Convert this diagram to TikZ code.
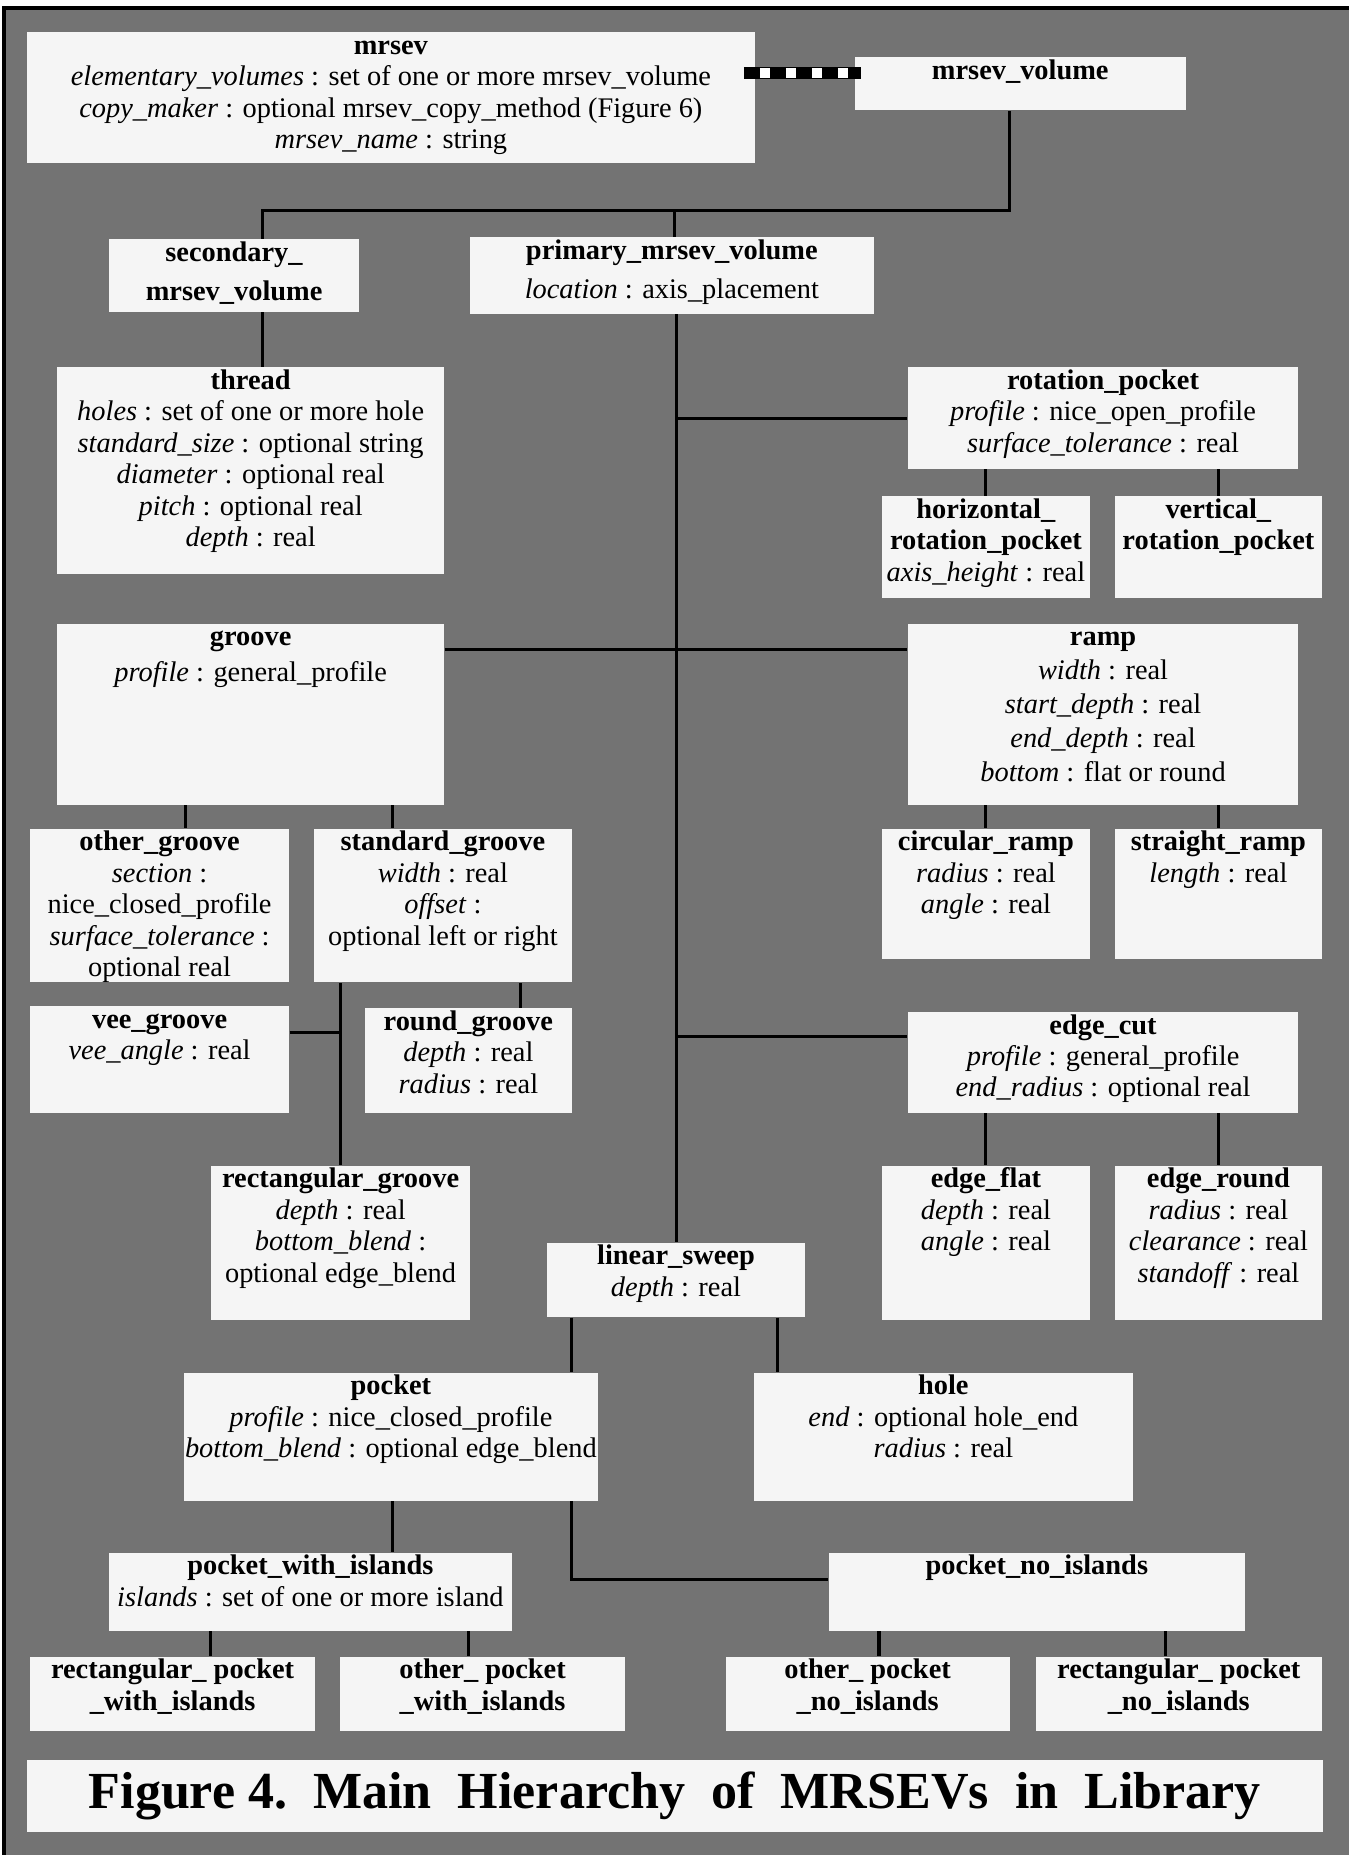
\documentclass[tikz,border=0pt]{standalone}
\usepackage{xcolor}
\usepackage{fontspec}
\setmainfont{Liberation Serif}
\usepackage{tikz}
\definecolor{screen}{gray}{0.45}
\definecolor{card}{gray}{0.96}
\newlength\unitpx
\setlength\unitpx{0.5pt}
\newcommand{\classbox}[3]{\parbox[c][#2\unitpx][t]{#1\unitpx}{\centering\strut#3}}
\newcommand{\attr}[2]{\textit{#1} : #2}
\tikzstyle{cls}=[anchor=north west,inner sep=0pt,fill=card,font=\fontsize{12}{13.3}\selectfont]
\tikzstyle{link}=[line width=1.3pt]
\tikzstyle{aggbar}=[line width=5pt]
\tikzstyle{aggdots}=[white,line width=4.2pt,dash pattern=on 4.25pt off 6.75pt,dash phase=4.25pt]

\begin{document}
\begin{tikzpicture}[x=0.5pt,y=-0.5pt]
        \useasboundingbox (0,0) rectangle (1140,1568);
        \fill[white] (0,0) rectangle (1140,1568);
        \filldraw[fill=screen,draw=black,line width=1.7pt] (3,7) rectangle (1170,1600);

        % top of the hierarchy
        \node[cls] (mrsev) at (22,27) {\classbox{616}{110}{\textbf{mrsev}\\
              \attr{elementary\_volumes}{set of one or more mrsev\_volume}\\
              \attr{copy\_maker}{optional mrsev\_copy\_method (Figure 6)}\\
              \attr{mrsev\_name}{string}}};
        \node[cls] (mrsevvol) at (722,48) {\classbox{280}{45}{\textbf{mrsev\_volume}}};
        \node[cls] (secondary) at (92,202) {\classbox{211}{61}{\textbf{secondary\_}\\[3.4pt]\textbf{mrsev\_volume}}};
        \node[cls] (primary) at (397,200) {\classbox{341}{65}{\textbf{primary\_mrsev\_volume}\\[3.4pt]\attr{location}{axis\_placement}}};

        % left column
        \node[cls] (thread) at (48,310) {\classbox{327}{175}{\textbf{thread}\\
              \attr{holes}{set of one or more hole}\\
              \attr{standard\_size}{optional string}\\
              \attr{diameter}{optional real}\\
              \attr{pitch}{optional real}\\
              \attr{depth}{real}}};
        \node[cls] (groove) at (48,527) {\classbox{327}{153}{\textbf{groove}\\[1.7pt]\attr{profile}{general\_profile}}};
        \node[cls] (othergroove) at (25,700) {\classbox{219}{130}{\textbf{other\_groove}\\
              \textit{section} :\\ nice\_closed\_profile\\ \textit{surface\_tolerance} :\\ optional real}};
        \node[cls] (stdgroove) at (265,700) {\classbox{218}{130}{\textbf{standard\_groove}\\
              \attr{width}{real}\\ \textit{offset} :\\ optional left or right}};
        \node[cls] (veegroove) at (25,850) {\classbox{219}{90}{\textbf{vee\_groove}\\ \attr{vee\_angle}{real}}};
        \node[cls] (roundgroove) at (308,852) {\classbox{175}{88}{\textbf{round\_groove}\\
              \attr{depth}{real}\\ \attr{radius}{real}}};
        \node[cls] (rectgroove) at (178,985) {\classbox{219}{130}{\textbf{rectangular\_groove}\\
              \attr{depth}{real}\\ \textit{bottom\_blend} :\\ optional edge\_blend}};

        % right column
        \node[cls] (rotpocket) at (767,310) {\classbox{330}{86}{\textbf{rotation\_pocket}\\
              \attr{profile}{nice\_open\_profile}\\ \attr{surface\_tolerance}{real}}};
        \node[cls] (hrot) at (745,419) {\classbox{176}{86}{\textbf{horizontal\_}\\ \textbf{rotation\_pocket}\\ \attr{axis\_height}{real}}};
        \node[cls] (vrot) at (942,419) {\classbox{175}{86}{\textbf{vertical\_}\\ \textbf{rotation\_pocket}}};
        \node[cls] (ramp) at (767,527) {\classbox{330}{153}{\textbf{ramp}\\[1pt]
              \attr{width}{real}\\[1pt] \attr{start\_depth}{real}\\[1pt]
              \attr{end\_depth}{real}\\[1pt] \attr{bottom}{flat or round}}};
        \node[cls] (circramp) at (745,700) {\classbox{176}{110}{\textbf{circular\_ramp}\\
              \attr{radius}{real}\\ \attr{angle}{real}}};
        \node[cls] (straightramp) at (942,700) {\classbox{175}{110}{\textbf{straight\_ramp}\\ \attr{length}{real}}};
        \node[cls] (edgecut) at (767,855) {\classbox{330}{85}{\textbf{edge\_cut}\\
              \attr{profile}{general\_profile}\\ \attr{end\_radius}{optional real}}};
        \node[cls] (edgeflat) at (745,985) {\classbox{176}{130}{\textbf{edge\_flat}\\
              \attr{depth}{real}\\ \attr{angle}{real}}};
        \node[cls] (edgeround) at (942,985) {\classbox{175}{130}{\textbf{edge\_round}\\
              \attr{radius}{real}\\ \attr{clearance}{real}\\ \attr{standoff}{real}}};

        % sweeps
        \node[cls] (lsweep) at (462,1050) {\classbox{218}{63}{\textbf{linear\_sweep}\\ \attr{depth}{real}}};
        \node[cls] (pocket) at (155,1160) {\classbox{350}{108}{\textbf{pocket}\\
              \attr{profile}{nice\_closed\_profile}\\ \attr{bottom\_blend}{optional edge\_blend}}};
        \node[cls] (hole) at (637,1160) {\classbox{320}{108}{\textbf{hole}\\
              \attr{end}{optional hole\_end}\\ \attr{radius}{real}}};
        \node[cls] (pwi) at (92,1312) {\classbox{340}{66}{\textbf{pocket\_with\_islands}\\
              \attr{islands}{set of one or more island}}};
        \node[cls] (pni) at (700,1312) {\classbox{352}{66}{\textbf{pocket\_no\_islands}}};
        \node[cls] (rpwi) at (25,1400) {\classbox{241}{63}{\textbf{rectangular\_ pocket}\\ \textbf{\_with\_islands}}};
        \node[cls] (opwi) at (287,1400) {\classbox{241}{63}{\textbf{other\_ pocket}\\ \textbf{\_with\_islands}}};
        \node[cls] (opni) at (613,1400) {\classbox{240}{63}{\textbf{other\_ pocket}\\ \textbf{\_no\_islands}}};
        \node[cls] (rpni) at (875,1400) {\classbox{242}{63}{\textbf{rectangular\_ pocket}\\ \textbf{\_no\_islands}}};

        \node[anchor=north west,inner sep=0pt,fill=card,minimum width=548pt,minimum height=30.5pt,
              font=\bfseries\fontsize{22}{25}\selectfont] (caption) at (22,1487)
              {Figure 4.\ \ Main\ \ Hierarchy\ \ of\ \ MRSEVs\ \ in\ \ Library};

        % where the lines run
        \foreach \n/\v in {sec/222,pri/570,trunk/572,og/157,sg/332,rg/440,pk/483,ho/657,
                           pwi/332,rpwi/178,opwi/396,opni/743,rpni/985}
          \coordinate (x\n) at (\v,0);
        \foreach \n/\v in {agg/62,bus/178,gr/549,ec/876,vee/873,pni/1335}
          \coordinate (y\n) at (0,\v);
        \coordinate (bus) at (853,178);

        \draw[aggbar,shorten <=-5pt,shorten >=-3pt] (mrsev.east |- yagg) -- (mrsevvol.west |- yagg);
        \draw[aggdots] ([xshift=-5pt]mrsev.east |- yagg) -- ([xshift=3pt]mrsevvol.west |- yagg);

        \draw[link] (mrsevvol.south -| bus) -- (bus) -| (secondary.north -| xsec);
        \draw[link] (primary.north -| xpri) -- (xpri |- bus);
        \draw[link] (secondary.south -| xsec) -- (thread.north -| xsec);
        \draw[link] (primary.south -| xtrunk) -- (lsweep.north -| xtrunk);
        \draw[link] (xtrunk |- rotpocket.west) -- (rotpocket.west);
        \draw[link] (groove.east |- ygr) -- (ramp.west |- ygr);
        \draw[link] (xtrunk |- yec) -- (edgecut.west |- yec);

        \draw[link] (rotpocket.south -| hrot.north) -- (hrot.north);
        \draw[link] (rotpocket.south -| vrot.north) -- (vrot.north);
        \draw[link] (ramp.south -| circramp.north) -- (circramp.north);
        \draw[link] (ramp.south -| straightramp.north) -- (straightramp.north);
        \draw[link] (edgecut.south -| edgeflat.north) -- (edgeflat.north);
        \draw[link] (edgecut.south -| edgeround.north) -- (edgeround.north);

        \draw[link] (groove.south -| xog) -- (othergroove.north -| xog);
        \draw[link] (groove.south -| xsg) -- (stdgroove.north -| xsg);
        \draw[link] (stdgroove.south -| xrg) -- (roundgroove.north -| xrg);
        \draw[link] (stdgroove.south -| rectgroove.north) -- (rectgroove.north);
        \draw[link] (veegroove.east |- yvee) -- (rectgroove.north |- yvee);

        \draw[link] (lsweep.south -| xpk) -- (pocket.north -| xpk);
        \draw[link] (lsweep.south -| xho) -- (hole.north -| xho);
        \draw[link] (pocket.south -| xpwi) -- (pwi.north -| xpwi);
        \draw[link] (pocket.south -| xpk) |- (pni.west |- ypni);
        \draw[link] (pwi.south -| xrpwi) -- (rpwi.north -| xrpwi);
        \draw[link] (pwi.south -| xopwi) -- (opwi.north -| xopwi);
        \draw[link] (pni.south -| xopni) -- (opni.north -| xopni);
        \draw[link] (pni.south -| xrpni) -- (rpni.north -| xrpni);
\end{tikzpicture}
\end{document}
